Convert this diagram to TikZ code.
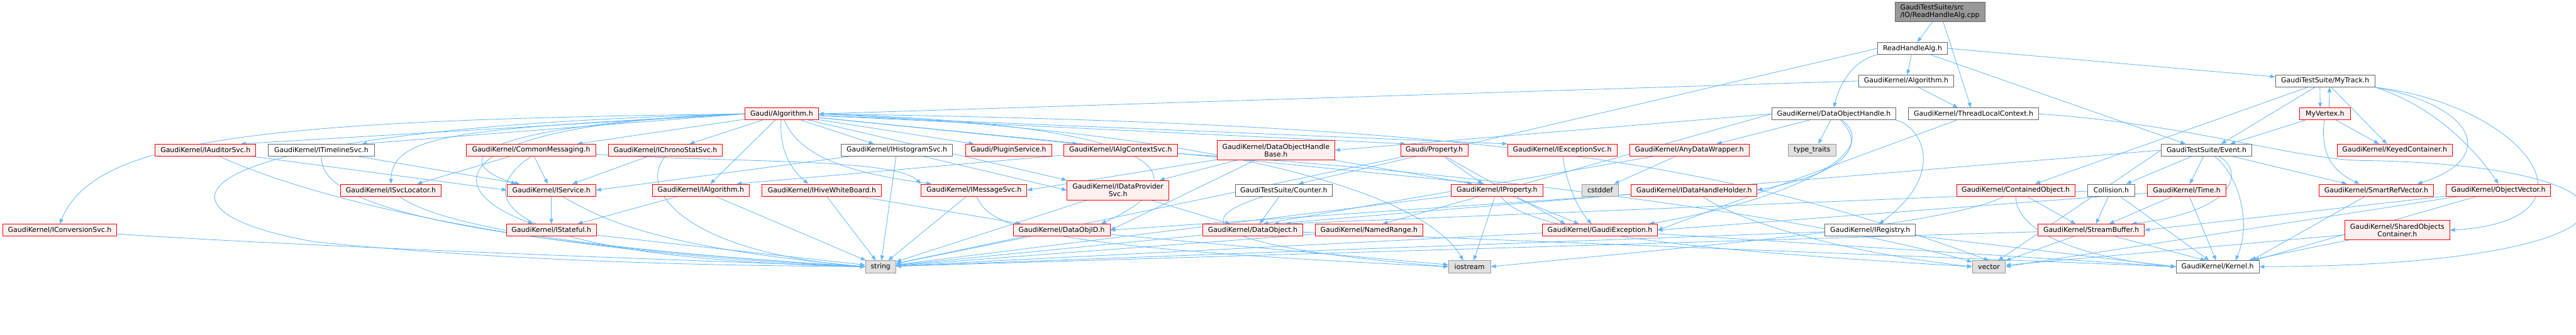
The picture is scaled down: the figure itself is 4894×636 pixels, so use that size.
\documentclass[tikz,border=0pt]{standalone}
\usepackage{fontspec}
\setmainfont{DejaVu Sans}
\usetikzlibrary{arrows.meta,calc,backgrounds}

\definecolor{edgeblue}{HTML}{63B8FF}
\definecolor{boxred}{HTML}{FF0000}
\definecolor{boxpink}{HTML}{FFF0F0}
\definecolor{boxgray}{HTML}{666666}
\definecolor{sysdraw}{HTML}{999999}
\definecolor{sysfill}{HTML}{E0E0E0}
\definecolor{rootfill}{HTML}{999999}
\newcommand\gfont{\fontsize{9.8}{10.75}\selectfont}

\begin{document}
\begin{tikzpicture}[x=0.75pt, y=-0.75pt,
    box/.style={draw, rectangle, minimum height=17.25pt, inner xsep=2pt,
        inner ysep=0pt, font=\gfont, line width=0.75pt},
    wd/.style={minimum width=#1*0.75pt},
    redbox/.style={box, draw=boxred, fill=boxpink},
    graybox/.style={box, draw=boxgray, fill=white},
    sysbox/.style={box, draw=sysdraw, fill=sysfill},
    rootbox/.style={box, draw=boxgray, fill=rootfill},
    twoline/.style={minimum height=27.75pt, align=center},
    edge/.style={draw=edgeblue, line width=0.75pt,
        -{Triangle[length=7pt,width=5.5pt]}}
]
    \useasboundingbox (0,0) rectangle (4894,636);

    % top of the graph
    \node[rootbox, wd=171, twoline, align=left] (root) at (3685.5,22.5)
        {GaudiTestSuite/src\\/IO/ReadHandleAlg.cpp};
    \node[graybox, wd=133] (rha) at (3633.5,92) {ReadHandleAlg.h};
    \node[graybox, wd=181] (gkalg) at (3621.5,154) {GaudiKernel/Algorithm.h};
    \node[graybox, wd=189] (mytrack) at (4417.5,154) {GaudiTestSuite/MyTrack.h};

    \node[redbox, wd=140] (galg) at (1485,216.5) {Gaudi/Algorithm.h};
    \node[graybox, wd=236] (doh) at (3484,216.5) {GaudiKernel/DataObjectHandle.h};
    \node[graybox, wd=247] (tlc) at (3749.5,216.5) {GaudiKernel/ThreadLocalContext.h};
    \node[redbox, wd=96] (myvertex) at (4417,216.5) {MyVertex.h};

    % fourth row
    \node[redbox, wd=191] (iaudit) at (390.5,285.5) {GaudiKernel/IAuditorSvc.h};
    \node[graybox, wd=201] (itimeline) at (610.5,285.5) {GaudiKernel/ITimelineSvc.h};
    \node[redbox, wd=246] (commonmsg) at (1009,285.5) {GaudiKernel/CommonMessaging.h};
    \node[redbox, wd=216] (ichrono) at (1264,285.5) {GaudiKernel/IChronoStatSvc.h};
    \node[graybox, wd=212] (ihisto) at (1704,285.5) {GaudiKernel/IHistogramSvc.h};
    \node[redbox, wd=164] (plugin) at (1916,285.5) {Gaudi/PluginService.h};
    \node[redbox, wd=216] (ialgctx) at (2129,285.5) {GaudiKernel/IAlgContextSvc.h};
    \node[redbox, wd=224, twoline] (dohbase) at (2424,285.5)
        {GaudiKernel/DataObjectHandle\\Base.h};
    \node[redbox, wd=128] (property) at (2725,285.5) {Gaudi/Property.h};
    \node[redbox, wd=208] (iexcept) at (2968,285.5) {GaudiKernel/IExceptionSvc.h};
    \node[redbox, wd=227] (anydata) at (3209.5,285.5) {GaudiKernel/AnyDataWrapper.h};
    \node[sysbox, wd=91] (typetraits) at (3442.5,285.5) {type\_traits};
    \node[graybox, wd=172] (event) at (4192,285.5) {GaudiTestSuite/Event.h};
    \node[redbox, wd=219] (keyedcont) at (4549.5,285.5) {GaudiKernel/KeyedContainer.h};

    % fifth row
    \node[redbox, wd=191] (isvcloc) at (742.5,361.5) {GaudiKernel/ISvcLocator.h};
    \node[redbox, wd=169] (iservice) at (1047.5,361.5) {GaudiKernel/IService.h};
    \node[redbox, wd=185] (ialg) at (1331.5,361.5) {GaudiKernel/IAlgorithm.h};
    \node[redbox, wd=227] (ihive) at (1561.5,361.5) {GaudiKernel/IHiveWhiteBoard.h};
    \node[redbox, wd=201] (imsg) at (1850.5,361.5) {GaudiKernel/IMessageSvc.h};
    \node[redbox, wd=194, twoline] (idataprov) at (2124,361.5)
        {GaudiKernel/IDataProvider\\Svc.h};
    \node[graybox, wd=184] (counter) at (2439,361.5) {GaudiTestSuite/Counter.h};
    \node[redbox, wd=174] (iproperty) at (2844,361.5) {GaudiKernel/IProperty.h};
    \node[sysbox, wd=70] (cstddef) at (3040,361.5) {cstddef};
    \node[redbox, wd=239] (idhh) at (3218.5,361.5) {GaudiKernel/IDataHandleHolder.h};
    \node[redbox, wd=225] (contobj) at (3829.5,361.5) {GaudiKernel/ContainedObject.h};
    \node[graybox, wd=90] (collision) at (4011,361.5) {Collision.h};
    \node[redbox, wd=149] (timeh) at (4154.5,361.5) {GaudiKernel/Time.h};
    \node[redbox, wd=217] (smartref) at (4514.5,361.5) {GaudiKernel/SmartRefVector.h};
    \node[redbox, wd=199] (objvec) at (4746.5,361.5) {GaudiKernel/ObjectVector.h};

    % sixth row
    \node[redbox, wd=217] (iconv) at (113.5,437.5) {GaudiKernel/IConversionSvc.h};
    \node[redbox, wd=171] (istateful) at (1047.5,437.5) {GaudiKernel/IStateful.h};
    \node[redbox, wd=184] (dataobjid) at (2017,437.5) {GaudiKernel/DataObjID.h};
    \node[redbox, wd=190] (dataobj) at (2380,437.5) {GaudiKernel/DataObject.h};
    \node[redbox, wd=204] (namedrange) at (2601,437.5) {GaudiKernel/NamedRange.h};
    \node[redbox, wd=219] (gaudiexc) at (3039.5,437.5) {GaudiKernel/GaudiException.h};
    \node[graybox, wd=172] (iregistry) at (3553,437.5) {GaudiKernel/IRegistry.h};
    \node[redbox, wd=202] (streambuf) at (3973,437.5) {GaudiKernel/StreamBuffer.h};
    \node[redbox, wd=199, twoline] (sharedobj) at (4554.5,437.5)
        {GaudiKernel/SharedObjects\\Container.h};

    % bottom row
    \node[sysbox, wd=58] (string) at (1673,507) {string};
    \node[sysbox, wd=80] (iostream) at (2792,507) {iostream};
    \node[sysbox, wd=63] (vector) at (3778.5,507) {vector};
    \node[graybox, wd=158] (kernel) at (4213,507) {GaudiKernel/Kernel.h};

    \begin{scope}[on background layer]
    % root and its headers
    \draw[edge] (root) -- (rha);
    \draw[edge] (root) -- ($(tlc.north)+(-5,0)$);
    \draw[edge] (rha) -- (gkalg);
    \draw[edge] (rha.south west) .. controls (3520,115) and (3495,160) .. (doh.north);
    \draw[edge] (rha.west) -- ($(counter.north)+(28,0)$);
    \draw[edge] (rha.east) -- ($(mytrack.west)+(0,-8)$);
    \draw[edge] (rha) -- ($(event.north)+(-40,0)$);
    \draw[edge] (gkalg.west) -- (galg.east);
    \draw[edge] (gkalg) -- ($(tlc.north)+(-30,0)$);
    \draw[edge] (tlc.east) .. controls (4150,235) and (4350,300) .. (4480,305)
        .. controls (5080,312) and (5080,505) .. (kernel.east);
    \draw[edge] (tlc) -- (gaudiexc.east);

    % Gaudi/Algorithm.h
    \draw[edge] (galg.west) .. controls (500,228) and (180,262) .. (iconv.north);
    \draw[edge] (galg.west) .. controls (300,245) and (250,400) .. (600,460)
        .. controls (1000,500) and (1400,505) .. (string.west);
    \draw[edge] (galg.west) -- ($(iaudit.north)+(67,0)$);
    \draw[edge] (galg.west) -- ($(itimeline.north)+(77,0)$);
    \draw[edge] (galg.west) .. controls (900,245) and (745,250) .. (isvcloc.north);
    \draw[edge] (galg) -- ($(commonmsg.north)+(88,0)$);
    \draw[edge] (galg.west) .. controls (870,240) and (860,310) .. ($(iservice.north)+(-67,0)$);
    \draw[edge] (galg.west) .. controls (840,235) and (830,360) .. ($(istateful.north)+(-35,0)$);
    \draw[edge] (galg) -- ($(ichrono.north)+(46,0)$);
    \draw[edge] (galg) -- ($(ialg.north)+(18,0)$);
    \draw[edge] (galg) .. controls (1480,280) and (1500,320) .. ($(ihive.north)+(-26,0)$);
    \draw[edge] (galg) -- ($(ihisto.north)+(-44,0)$);
    \draw[edge] (galg) -- ($(plugin.north)+(-66,0)$);
    \draw[edge] (galg) .. controls (1520,300) and (1620,330) .. ($(imsg.north west)+(20,0)$);
    \draw[edge] (galg) -- ($(ialgctx.north)+(-82,0)$);
    \draw[edge] (galg) -- (idataprov.north west);
    \draw[edge] (galg.east) .. controls (2200,235) and (2300,330) .. ($(dataobjid.north)+(75,0)$);
    \draw[edge] (galg) -- ($(property.north)+(-55,0)$);
    \draw[edge] (galg) -- ($(iproperty.north)+(-24,0)$);
    \draw[edge] (galg) -- (iexcept.north west);
    \draw[edge] (galg.east) .. controls (2900,235) and (3300,320) .. (vector.north);
    \draw[edge] (galg.east) .. controls (2300,250) and (2700,360) .. ($(iostream.north)+(-12,0)$);

    % fourth row
    \draw[edge] (iaudit) -- (iservice.west);
    \draw[edge] (iaudit) .. controls (600,380) and (1000,480) .. (string.west);
    \draw[edge] (itimeline) -- ($(iservice.north)+(-60,0)$);
    \draw[edge] (itimeline.south) .. controls (610,360) and (700,450) .. (string.west);
    \draw[edge] (commonmsg) -- ($(isvcloc.north)+(50,0)$);
    \draw[edge] (commonmsg) -- ($(iservice.north)+(-7,0)$);
    \draw[edge] (commonmsg) .. controls (1400,310) and (1700,300) .. (imsg.north west);
    \draw[edge] (commonmsg.south) .. controls (900,370) and (920,490) .. (string.west);
    \draw[edge] (ichrono) -- ($(iservice.north)+(40,0)$);
    \draw[edge] (ichrono.south) .. controls (1210,360) and (1300,480) .. (string.west);
    \draw[edge] (ihisto) -- (iservice.east);
    \draw[edge] (ihisto) -- (string);
    \draw[edge] (ihisto) -- (idataprov.west);
    \draw[edge] (ialgctx) -- ($(ialg.north)+(68,0)$);
    \draw[edge] (ialgctx) .. controls (2700,320) and (3400,400) .. (vector);
    \draw[edge] (dohbase) -- ($(idataprov.north)+(79,0)$);
    \draw[edge] (dohbase) -- ($(iproperty.north)+(-47,0)$);
    \draw[edge] (dohbase) -- (imsg.east);
    \draw[edge] (dohbase) -- (dataobjid.east);
    \draw[edge] (property) -- ($(iproperty.north)+(-27,0)$);
    \draw[edge] (property) -- ($(gaudiexc.north)+(-66,0)$);
    \draw[edge] (property) -- (string);
    \draw[edge] (iexcept) .. controls (2975,350) and (3000,400) .. ($(gaudiexc.north)+(-16,0)$);
    \draw[edge] (anydata) -- (cstddef);
    \draw[edge] (anydata) -- ($(dataobj.north)+(20,0)$);
    \draw[edge] (event) -- (collision);
    \draw[edge] (event) -- (timeh);
    \draw[edge] (event) .. controls (4250,330) and (4280,420) .. ($(kernel.north)+(34,0)$);
    \draw[edge] (event) .. controls (4260,320) and (4260,400) .. ($(streambuf.north)+(77,0)$);
    \draw[edge] (event) -- ($(smartref.north)+(-56,0)$);
    \draw[edge] (event.west) -- ($(dataobj.north)+(40,0)$);
    \draw[edge] (event.west) -- (vector);

    % MyTrack.h and MyVertex.h
    \draw[edge] ($(mytrack.south)+(-10,0)$) -- ($(myvertex.north)+(-9,0)$);
    \draw[edge] ($(myvertex.north)+(8,0)$) -- ($(mytrack.south)+(8,0)$);
    \draw[edge] (mytrack) -- ($(event.north)+(28,0)$);
    \draw[edge] (mytrack) -- ($(contobj.north)+(37,0)$);
    \draw[edge] (mytrack) -- ($(keyedcont.north)+(-15,0)$);
    \draw[edge] (mytrack.south east) .. controls (4700,200) and (4750,300) .. ($(smartref.north)+(78,0)$);
    \draw[edge] (mytrack.south east) .. controls (4620,200) and (4700,280) .. (objvec.north);
    \draw[edge] (mytrack.south east) .. controls (4800,200) and (4960,420) .. (sharedobj.east);
    \draw[edge] (myvertex) -- ($(keyedcont.north)+(-30,0)$);
    \draw[edge] (myvertex) .. controls (4410,280) and (4420,320) .. ($(smartref.north)+(-32,0)$);
    \draw[edge] (myvertex) -- ($(event.north)+(45,0)$);

    % DataObjectHandle.h
    \draw[edge] (doh.west) -- (dohbase.east);
    \draw[edge] (doh.west) -- ($(namedrange.north)+(26,0)$);
    \draw[edge] (doh) -- ($(anydata.north)+(52,0)$);
    \draw[edge] (doh) -- ($(typetraits.north)+(12,0)$);
    \draw[edge] (doh) .. controls (3550,280) and (3500,330) .. (idhh.east);
    \draw[edge] (doh) .. controls (3580,290) and (3400,380) .. ($(gaudiexc.north east)+(-16,0)$);
    \draw[edge] (doh.south east) .. controls (3650,240) and (3700,330) .. ($(iregistry.north)+(17,0)$);

    % fifth row
    \draw[edge] (isvcloc) .. controls (850,440) and (1200,480) .. (string.west);
    \draw[edge] (iservice) -- (istateful);
    \draw[edge] (iservice) .. controls (1150,420) and (1250,470) .. (string.west);
    \draw[edge] (ialg) -- ($(istateful.north)+(50,0)$);
    \draw[edge] (ialg) -- (string);
    \draw[edge] (ihive) -- ($(dataobjid.north)+(-77,0)$);
    \draw[edge] (ihive) -- (string);
    \draw[edge] (imsg) -- (string);
    \draw[edge] (imsg) .. controls (1880,430) and (1950,470) .. (iostream.west);
    \draw[edge] (idataprov) -- ($(dataobj.north)+(-43,0)$);
    \draw[edge] (idataprov) -- (string);
    \draw[edge] (counter) -- ($(dataobj.north)+(13,0)$);
    \draw[edge] (counter) .. controls (2250,420) and (2300,470) .. (iostream.west);
    \draw[edge] (iproperty) -- ($(gaudiexc.north)+(-40,0)$);
    \draw[edge] (iproperty) -- ($(iostream.north)+(8,0)$);
    \draw[edge] (iproperty) -- (string);
    \draw[edge] (iproperty) .. controls (2900,450) and (3300,480) .. (vector.west);
    \draw[edge] (idhh) -- (dataobjid.east);
    \draw[edge] (idhh) .. controls (3300,420) and (3500,480) .. (vector.west);
    \draw[edge] (contobj) -- ($(streambuf.north)+(-30,0)$);
    \draw[edge] (contobj) .. controls (3830,440) and (3950,490) .. (kernel.west);
    \draw[edge] (contobj) .. controls (3700,430) and (3200,470) .. (iostream.east);
    \draw[edge] (collision) -- ($(streambuf.north)+(9,0)$);
    \draw[edge] (collision) -- ($(kernel.north)+(-16,0)$);
    \draw[edge] (collision) -- ($(dataobj.north)+(63,0)$);
    \draw[edge] (timeh) -- ($(streambuf.north)+(34,0)$);
    \draw[edge] (timeh) -- ($(kernel.north)+(-3,0)$);
    \draw[edge] (timeh) -- (gaudiexc.east);
    \draw[edge] (smartref) -- ($(kernel.north)+(64,0)$);
    \draw[edge] (objvec) -- (streambuf.east);
    \draw[edge] (objvec) -- (vector.east);
    \draw[edge] (objvec) -- ($(kernel.north east)+(-10,0)$);

    % sixth row
    \draw[edge] (iconv) .. controls (600,470) and (1300,495) .. (string.west);
    \draw[edge] (istateful) -- (string);
    \draw[edge] (dataobjid) -- (iostream);
    \draw[edge] (dataobjid) -- (string);
    \draw[edge] (dataobj) -- (string);
    \draw[edge] (dataobj) -- (kernel.west);
    \draw[edge] (namedrange) -- (string);
    \draw[edge] (gaudiexc) -- (string);
    \draw[edge] (gaudiexc) -- (kernel.west);
    \draw[edge] (iregistry) -- (string);
    \draw[edge] (iregistry) -- (kernel.west);
    \draw[edge] (streambuf) -- (vector);
    \draw[edge] (streambuf) -- ($(kernel.north)+(-23,0)$);
    \draw[edge] (streambuf) -- (string);
    \draw[edge] (sharedobj) -- (vector);
    \draw[edge] (sharedobj) -- (kernel);
    \end{scope}
\end{tikzpicture}
\end{document}
